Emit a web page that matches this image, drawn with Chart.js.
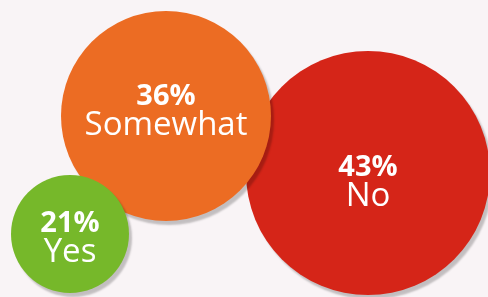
<!DOCTYPE html>
<html>
<head>
<meta charset="utf-8">
<script src="https://cdn.jsdelivr.net/npm/chart.js@4"></script>
<style>
  html, body { margin: 0; padding: 0; background: #f9f4f6; }
  #wrap { width: 488px; height: 297px; position: relative; }
</style>
</head>
<body>
<div id="wrap"><canvas id="bubbleChart"></canvas></div>
<script>
// answers, drawn back to front (No first so Yes ends up on top)
var categories = ['No', 'Somewhat', 'Yes'];
var shares = [43, 36, 21];
var bubbleX = [368, 166, 70];
var bubbleY = [173, 116, 234];
var bubbleR = [122, 105, 59];
var colors = ['#d52518', '#ec6c23', '#76b82a'];

var points = categories.map(function (c, i) {
  return { x: bubbleX[i], y: bubbleY[i], r: bubbleR[i] };
});

// soft grey drop shadow under each bubble
var shadowPlugin = {
  id: 'shadow',
  beforeDatasetDraw: function (chart) {
    var ctx = chart.ctx;
    ctx.save();
    ctx.shadowColor = 'rgba(0,0,0,0.22)';
    ctx.shadowOffsetX = 3;
    ctx.shadowOffsetY = 4;
    ctx.shadowBlur = 2;
  },
  afterDatasetDraw: function (chart) {
    chart.ctx.restore();
  }
};

// percent + answer written inside each bubble
var labelPlugin = {
  id: 'bubbleLabels',
  afterDatasetsDraw: function (chart) {
    var ctx = chart.ctx;
    var shift = [3, -11, -2];
    var meta = chart.getDatasetMeta(0);
    ctx.save();
    ctx.fillStyle = '#ffffff';
    ctx.textAlign = 'center';
    ctx.textBaseline = 'alphabetic';
    meta.data.forEach(function (el, i) {
      var y = el.y + shift[i];
      ctx.font = 'bold 29px "Open Sans"';
      ctx.fillText(shares[i] + '%', el.x, y);
      ctx.font = '33px "Open Sans"';
      ctx.fillText(categories[i], el.x, y + 30);
    });
    ctx.restore();
  }
};

var ctx = document.getElementById('bubbleChart').getContext('2d');
var chart = new Chart(ctx, {
  type: 'bubble',
  data: {
    datasets: [{
      data: points,
      backgroundColor: colors,
      borderWidth: 0,
      hoverBorderWidth: 0,
      clip: false
    }]
  },
  options: {
    responsive: true,
    maintainAspectRatio: false,
    animation: false,
    layout: { padding: 0, autoPadding: false },
    plugins: { legend: { display: false }, tooltip: { enabled: false } },
    scales: {
      x: { display: false, min: 0, max: 488 },
      y: { display: false, min: 0, max: 297, reverse: true }
    }
  },
  plugins: [shadowPlugin, labelPlugin]
});
</script>
</body>
</html>
